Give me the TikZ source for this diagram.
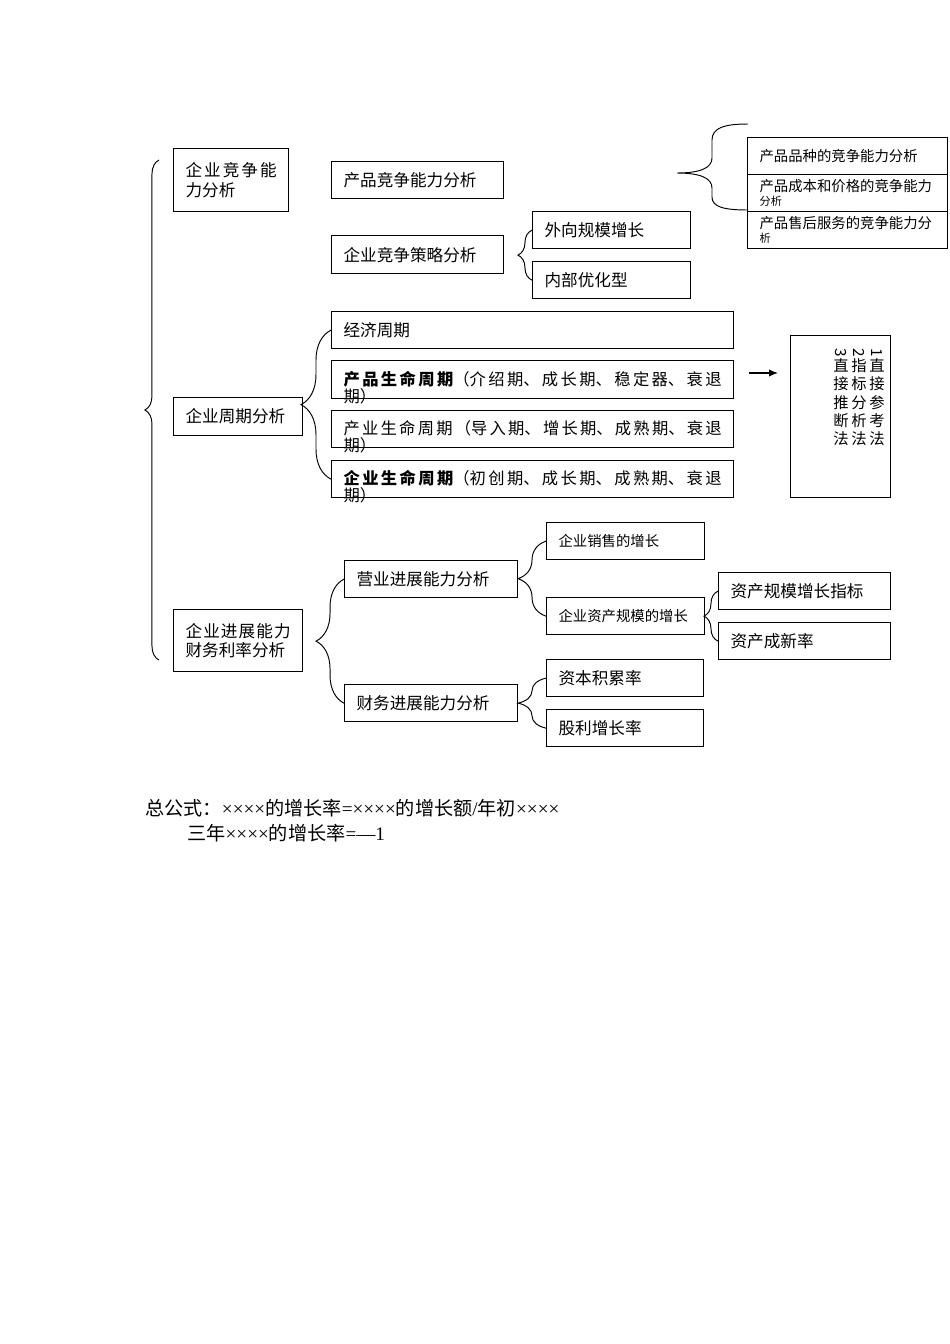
\documentclass[tikz,border=0pt]{standalone}
\usepackage{fontspec}
\setmainfont{Noto Sans CJK SC}
\newfontfamily\latinfont{Liberation Serif}
\usepackage{graphicx}
\usetikzlibrary{decorations.pathreplacing,arrows.meta}
\XeTeXlinebreaklocale "zh"
\XeTeXlinebreakskip=0pt plus 2pt

\newcommand\lat[1]{{\latinfont #1}}

\tikzset{
  box/.style={draw, line width=0.8pt, anchor=north west, inner xsep=7.5pt, inner ysep=0pt,
    align=left, font=\fontsize{10.4}{12.5}\selectfont},
  sz/.style 2 args={minimum width=#1*0.6263pt, minimum height=#2*0.6263pt,
    /utils/exec={\pgfmathsetlengthmacro\boxtw{#1*0.6263pt-15pt}}, text width=\boxtw},
  smallbox/.style={font=\fontsize{9}{8.5}\selectfont},
  twoline/.style={align=justify, font=\fontsize{10.4}{12}\selectfont},
  spill/.style={align=justify, text depth=2pt, font=\fontsize{10.2}{10.6}\selectfont},
  curly/.style={decorate, decoration={brace, mirror, amplitude=#1}, line width=0.6pt},
  vcol/.style={anchor=north, align=center, inner sep=0pt, font=\fontsize{9.6}{11.5}\selectfont},
  note/.style={anchor=west, inner sep=0pt, font=\fontsize{12}{14}\selectfont}
}

\begin{document}
\begin{tikzpicture}[x=0.6263pt, y=-0.6263pt]
  \useasboundingbox (0,0) rectangle (950,1344);

  % competition
  \node[box, sz={115}{63}, twoline] (comp) at (173,148) {企业竞争能\linebreak 力分析};
  \node[box, sz={172}{37}] (pcomp) at (331,161) {产品竞争能力分析};
  \node[box, sz={172}{38}] (strat) at (331,235) {企业竞争策略分析};
  \node[box, sz={158}{37}] (outg) at (532,211) {外向规模增长};
  \node[box, sz={158}{37}] (inner) at (532,261) {内部优化型};
  \node[box, sz={200}{37}, smallbox] (var) at (747,137) {产品品种的竞争能力分析};
  \node[box, sz={200}{37}, smallbox] (cost) at (747,174) {产品成本和价格的竞争能力\\{\fontsize{7}{7}\selectfont 分析}};
  \node[box, sz={200}{37}, smallbox] (serv) at (747,211) {产品售后服务的竞争能力分\\{\fontsize{7}{7}\selectfont 析}};
  \draw[curly=8.8pt] (outg.west) -- (inner.west);
  \coordinate (rbt) at (748,124);
  \coordinate (rbtip) at (677,173);
  \coordinate (rbb) at (748,210);
  \draw[line width=0.6pt] (rbt) .. controls (724,124) and (712,128) .. (712,140) -- (712,158)
    .. controls (712,168) and (700,173) .. (rbtip) .. controls (700,173) and (712,178) .. (712,188)
    -- (712,197) .. controls (712,207) and (724,210) .. (rbb);

  % cycles
  \node[box, sz={129}{38}] (cycle) at (173,397) {企业周期分析};
  \node[box, sz={402}{37}] (econ) at (331,311) {经济周期};
  \node[box, sz={402}{38}, spill] (plc) at (331,360) {\textbf{产品生命周期}（介绍期、成长期、稳定器、衰退\linebreak 期）};
  \node[box, sz={402}{37}, spill] (ilc) at (331,410) {产业生命周期（导入期、增长期、成熟期、衰退\linebreak 期）};
  \node[box, sz={402}{37}, spill] (elc) at (331,460) {\textbf{企业生命周期}（初创期、成长期、成熟期、衰退\linebreak 期）};
  \draw[curly=18.8pt] (econ.west) -- (elc.west);
  \coordinate (arrs) at (749,373);
  \coordinate (arre) at (778,373);
  \draw[-{Latex[length=5.6pt,width=4.6pt]}, line width=0.8pt] (arrs) -- (arre);
  \node[box, sz={100}{162}] (method) at (790,335) {};
  \node[vcol] (m1) at (877,348) {\rotatebox{-90}{1}\\直\\接\\参\\考\\法};
  \node[vcol] (m2) at (859,348) {\rotatebox{-90}{2}\\指\\标\\分\\析\\法};
  \node[vcol] (m3) at (841,348) {\rotatebox{-90}{3}\\直\\接\\推\\断\\法};

  % growth
  \node[box, sz={129}{62}, twoline] (grow) at (173,609) {企业进展能力\linebreak 财务利率分析};
  \node[box, sz={173}{37}] (opg) at (344,560) {营业进展能力分析};
  \node[box, sz={173}{37}] (fing) at (344,684) {财务进展能力分析};
  \node[box, sz={158}{37}, smallbox] (sales) at (546,522) {企业销售的增长};
  \node[box, sz={158}{37}, smallbox] (asset) at (546,597) {企业资产规模的增长};
  \node[box, sz={172}{37}] (ascale) at (718,572) {资产规模增长指标};
  \node[box, sz={172}{37}] (anew) at (718,622) {资产成新率};
  \node[box, sz={157}{37}] (capacc) at (546,659) {资本积累率};
  \node[box, sz={157}{37}] (divg) at (546,709) {股利增长率};
  \draw[curly=17.5pt] (opg.west) -- (fing.west);
  \draw[curly=17.5pt] (sales.west) -- (asset.west);
  \draw[curly=8.8pt] (ascale.west) -- (anew.west);
  \draw[curly=17.5pt] (capacc.west) -- (divg.west);

  % big brace
  \coordinate (bigtop) at (159,160);
  \coordinate (bigbot) at (159,660);
  \draw[curly=8.8pt] (bigtop) -- (bigbot);

  % formula
  \node[note] (f1) at (145,808) {总公式：\lat{××××}的增长率\lat{=××××}的增长额\lat{/}年初\lat{××××}};
  \node[note] (f2) at (187,833) {三年\lat{××××}的增长率\lat{=—1}};
\end{tikzpicture}
\end{document}
